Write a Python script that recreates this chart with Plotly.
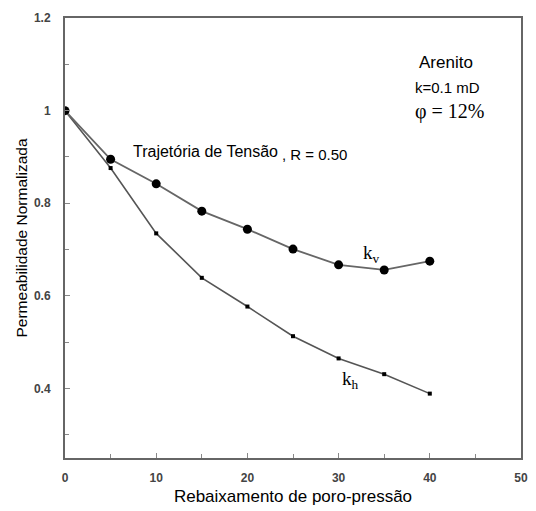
import plotly.graph_objects as go

x = [0, 5, 10, 15, 20, 25, 30, 35, 40]
kv = [1.0, 0.895, 0.842, 0.783, 0.744, 0.701, 0.667, 0.656, 0.675]
kh = [1.0, 0.876, 0.735, 0.639, 0.577, 0.513, 0.465, 0.431, 0.389]

x_ticks = [0, 10, 20, 30, 40, 50]
y_ticks = [0.4, 0.6, 0.8, 1.0, 1.2]
y_tick_labels = ["0.4", "0.6", "0.8", "1", "1.2"]

fig = go.Figure()
fig.add_trace(go.Scatter(x=x, y=kh, mode="lines+markers",
                         line=dict(color="#555", width=1.6),
                         marker=dict(symbol="square", size=4, color="black"),
                         name="kh", showlegend=False))
fig.add_trace(go.Scatter(x=x, y=kv, mode="lines+markers",
                         line=dict(color="#666", width=1.8),
                         marker=dict(symbol="circle", size=9, color="black"),
                         name="kv", showlegend=False))

axis_common = dict(showgrid=False, zeroline=False, showline=True, linecolor="#666",
                   linewidth=2, mirror=True, ticks="inside", ticklen=5,
                   tickcolor="#888", tickwidth=1,
                   tickfont=dict(family="Arial, Liberation Sans", size=12, color="#444", weight="bold"))

fig.update_xaxes(range=[0, 50], tickvals=x_ticks, ticklabelstandoff=8,
                 minor=dict(dtick=5, ticks="inside", ticklen=4, tickcolor="#888"),
                 title=dict(text="Rebaixamento de poro-pressão", standoff=6,
                            font=dict(family="Arial, Liberation Sans", size=17, color="black")),
                 **axis_common)
fig.update_yaxes(range=[0.25, 1.2], tickvals=y_ticks, ticktext=y_tick_labels, ticklabelstandoff=10,
                 minor=dict(tickvals=[0.3, 0.5, 0.7, 0.9, 1.1], ticks="inside", ticklen=4, tickcolor="#888"),
                 title=dict(text="Permeabilidade Normalizada", standoff=2,
                            font=dict(family="Arial, Liberation Sans", size=15.5, color="black")),
                 **axis_common)

ann_font = dict(family="Arial, Liberation Sans", color="black")
serif = "Liberation Serif, Times New Roman"
fig.add_annotation(x=0.771, y=1.105, xref="paper", yref="y", text="Arenito", showarrow=False,
                   xanchor="left", font=dict(size=17, **ann_font))
fig.add_annotation(x=0.763, y=1.051, xref="paper", yref="y", text="k=0.1 mD", showarrow=False,
                   xanchor="left", font=dict(size=15, **ann_font))
fig.add_annotation(x=0.763, y=0.998, xref="paper", yref="y", text="φ = 12%", showarrow=False,
                   xanchor="left", font=dict(size=20, family=serif, color="black"))
fig.add_annotation(x=7.2, y=0.912, text="Trajetória de Tensão", showarrow=False,
                   xanchor="left", font=dict(size=16, **ann_font))
fig.add_annotation(x=23.6, y=0.906, text=", R = 0.50", showarrow=False,
                   xanchor="left", font=dict(size=15, **ann_font))
fig.add_annotation(x=32.5, y=0.69, text="k<sub>v</sub>", showarrow=False,
                   xanchor="left", font=dict(size=19, family=serif, color="black"))
fig.add_annotation(x=30.1, y=0.418, text="k<sub>h</sub>", showarrow=False,
                   xanchor="left", font=dict(size=19, family=serif, color="black"))

fig.update_layout(width=536, height=511, margin=dict(l=65, r=8, t=18, b=51),
                  paper_bgcolor="white", plot_bgcolor="white", showlegend=False)

fig.write_html("out.html")
